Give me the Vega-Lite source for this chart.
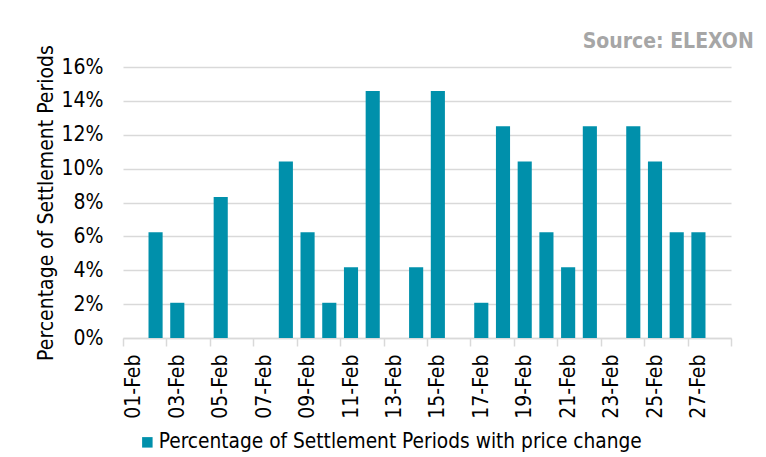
{
  "$schema": "https://vega.github.io/schema/vega-lite/v6.json",
  "width": 608,
  "height": 271,
  "autosize": "none",
  "padding": {"left": 123, "top": 67, "right": 35, "bottom": 119},
  "background": "white",
  "title": {
    "text": "Source: ELEXON",
    "anchor": "end",
    "color": "#a6a6a6",
    "fontSize": 21,
    "fontWeight": "bold",
    "font": "DejaVu Sans Condensed",
    "dx": 22,
    "dy": 13,
    "offset": 6
  },
  "data": {
    "values": [
      {"date": "01-Feb", "pct": 0},
      {"date": "02-Feb", "pct": 0.0625},
      {"date": "03-Feb", "pct": 0.0208},
      {"date": "04-Feb", "pct": 0},
      {"date": "05-Feb", "pct": 0.0833},
      {"date": "06-Feb", "pct": 0},
      {"date": "07-Feb", "pct": 0},
      {"date": "08-Feb", "pct": 0.1042},
      {"date": "09-Feb", "pct": 0.0625},
      {"date": "10-Feb", "pct": 0.0208},
      {"date": "11-Feb", "pct": 0.0417},
      {"date": "12-Feb", "pct": 0.1458},
      {"date": "13-Feb", "pct": 0},
      {"date": "14-Feb", "pct": 0.0417},
      {"date": "15-Feb", "pct": 0.1458},
      {"date": "16-Feb", "pct": 0},
      {"date": "17-Feb", "pct": 0.0208},
      {"date": "18-Feb", "pct": 0.125},
      {"date": "19-Feb", "pct": 0.1042},
      {"date": "20-Feb", "pct": 0.0625},
      {"date": "21-Feb", "pct": 0.0417},
      {"date": "22-Feb", "pct": 0.125},
      {"date": "23-Feb", "pct": 0},
      {"date": "24-Feb", "pct": 0.125},
      {"date": "25-Feb", "pct": 0.1042},
      {"date": "26-Feb", "pct": 0.0625},
      {"date": "27-Feb", "pct": 0.0625},
      {"date": "28-Feb", "pct": 0}
    ]
  },
  "mark": {"type": "bar", "width": {"band": 0.65}},
  "encoding": {
    "x": {
      "field": "date",
      "type": "nominal",
      "sort": null,
      "scale": {"paddingInner": 0, "paddingOuter": 0},
      "axis": {
        "title": null,
        "tickBand": "extent",
        "labelExpr": "parseInt(datum.value) % 2 === 0 ? '' : datum.value",
        "labelAngle": 270,
        "labelFontSize": 21,
        "labelColor": "#000000",
        "labelPadding": 8,
        "labelOverlap": false,
        "tickSize": 8,
        "tickColor": "#d9d9d9",
        "tickWidth": 1.5,
        "tickOpacity": {"condition": {"test": "!datum.extra && parseInt(datum.value) % 2 === 1", "value": 0}, "value": 1},
        "domainColor": "#d9d9d9",
        "domainWidth": 1.5,
        "grid": false
      }
    },
    "y": {
      "field": "pct",
      "type": "quantitative",
      "scale": {"domain": [0, 0.16]},
      "axis": {
        "title": "Percentage of Settlement Periods",
        "titleFontSize": 21,
        "titleFontWeight": "normal",
        "titleColor": "#000000",
        "titlePadding": 5,
        "values": [0, 0.02, 0.04, 0.06, 0.08, 0.1, 0.12, 0.14, 0.16],
        "format": ".0%",
        "labelFontSize": 21,
        "labelColor": "#000000",
        "labelPadding": 20,
        "ticks": false,
        "domain": false,
        "grid": true,
        "gridColor": "#d9d9d9",
        "gridWidth": 1.5
      }
    },
    "color": {
      "datum": "Percentage of Settlement Periods with price change",
      "scale": {"range": ["#0090ab"]},
      "legend": {
        "title": null,
        "orient": "none",
        "legendX": 14,
        "legendY": 365,
        "padding": 0,
        "symbolType": "square",
        "symbolSize": 110,
        "symbolStrokeWidth": 0,
        "symbolOpacity": 1,
        "labelFontSize": 20.7,
        "labelColor": "#000000",
        "labelOffset": 1,
        "labelLimit": 800
      }
    }
  },
  "config": {
    "view": {"stroke": null},
    "font": "DejaVu Sans Condensed"
  }
}
